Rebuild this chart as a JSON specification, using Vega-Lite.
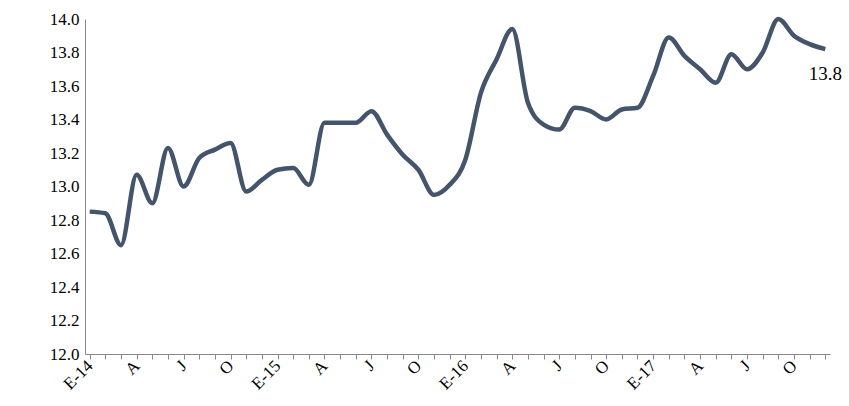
{"$schema":"https://vega.github.io/schema/vega-lite/v6.json","width":745,"height":335,"autosize":"none","padding":{"left":85,"top":19,"right":19,"bottom":52},
"config":{"view":{"stroke":null},"font":"Liberation Serif","axis":{"labelFont":"Liberation Serif","labelFontSize":17,"labelColor":"#000","domainColor":"#888","tickColor":"#888","grid":false,"title":null}},
"data":{"values":[
{"m":"2014-01","v":12.85},{"m":"2014-02","v":12.84},{"m":"2014-03","v":12.65},{"m":"2014-04","v":13.07},{"m":"2014-05","v":12.9},{"m":"2014-06","v":13.23},{"m":"2014-07","v":13.0},{"m":"2014-08","v":13.17},{"m":"2014-09","v":13.22},{"m":"2014-10","v":13.26},{"m":"2014-11","v":12.97},{"m":"2014-12","v":13.04},
{"m":"2015-01","v":13.1},{"m":"2015-02","v":13.11},{"m":"2015-03","v":13.01},{"m":"2015-04","v":13.38},{"m":"2015-05","v":13.38},{"m":"2015-06","v":13.38},{"m":"2015-07","v":13.45},{"m":"2015-08","v":13.31},{"m":"2015-09","v":13.19},{"m":"2015-10","v":13.1},{"m":"2015-11","v":12.95},{"m":"2015-12","v":13.01},
{"m":"2016-01","v":13.16},{"m":"2016-02","v":13.56},{"m":"2016-03","v":13.76},{"m":"2016-04","v":13.94},{"m":"2016-05","v":13.5},{"m":"2016-06","v":13.37},{"m":"2016-07","v":13.34},{"m":"2016-08","v":13.47},{"m":"2016-09","v":13.45},{"m":"2016-10","v":13.4},{"m":"2016-11","v":13.46},{"m":"2016-12","v":13.47},
{"m":"2017-01","v":13.66},{"m":"2017-02","v":13.89},{"m":"2017-03","v":13.78},{"m":"2017-04","v":13.7},{"m":"2017-05","v":13.62},{"m":"2017-06","v":13.79},{"m":"2017-07","v":13.7},{"m":"2017-08","v":13.8},{"m":"2017-09","v":14.0},{"m":"2017-10","v":13.9},{"m":"2017-11","v":13.85},{"m":"2017-12","v":13.82,"lab":"13.8"}]},
"layer":[
{"mark":{"type":"line","interpolate":"monotone","color":"#44546a","strokeWidth":4.5},
"encoding":{"x":{"field":"m","type":"ordinal","scale":{"type":"point","padding":0.3},"axis":{"labelAngle":-45,"labelAlign":"right","labelBaseline":"middle","labelPadding":4,"labelExpr":"substring(datum.value,5,7)=='01'?'E-'+substring(datum.value,2,4):substring(datum.value,5,7)=='04'?'A':substring(datum.value,5,7)=='07'?'J':substring(datum.value,5,7)=='10'?'O':''"}},
"y":{"field":"v","type":"quantitative","scale":{"domain":[12,14]},"axis":{"tickCount":10,"format":".1f","ticks":false,"labelPadding":6}}}},
{"transform":[{"filter":"datum.lab"}],"mark":{"type":"text","dy":25,"dx":0,"fontSize":19,"font":"Liberation Serif"},
"encoding":{"x":{"field":"m","type":"ordinal"},"y":{"field":"v","type":"quantitative"},"text":{"field":"lab"}}}
]}
